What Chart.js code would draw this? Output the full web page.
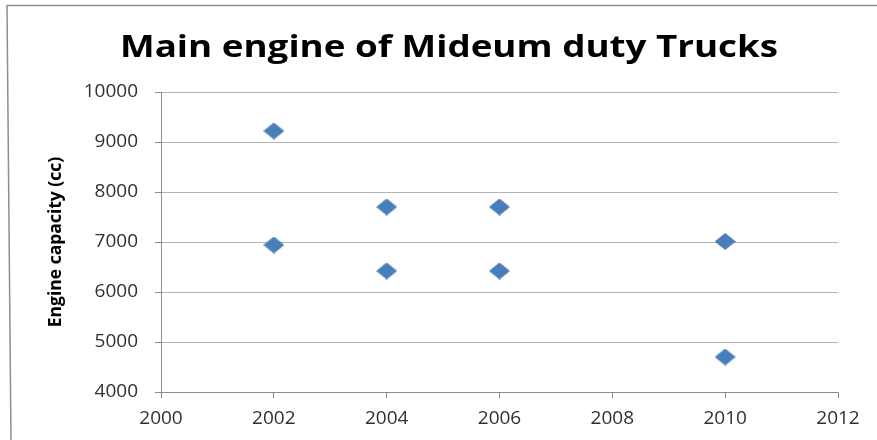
<!DOCTYPE html>
<html>
<head>
<meta charset="utf-8">
<title>Main engine of Mideum duty Trucks</title>
<script src="https://cdn.jsdelivr.net/npm/chart.js@4/dist/chart.umd.min.js"></script>
<style>
    html, body { margin: 0; padding: 0; background: #fff; }
    #truck-chart { display: block; }
</style>
</head>
<body>
<canvas id="truck-chart" width="877" height="440"></canvas>
<script>
// ---- Data ----
const chartTitle = 'Main engine of Mideum duty Trucks';
const yAxisTitle = 'Engine capacity (cc)';
const modelYears = [2002, 2002, 2004, 2004, 2006, 2006, 2010, 2010];
const engineCapacityCc = [9220, 6940, 7700, 6420, 7700, 6420, 7010, 4700];
const yearTicks = [2000, 2002, 2004, 2006, 2008, 2010, 2012];
const capacityTicks = [4000, 5000, 6000, 7000, 8000, 9000, 10000];

const MARKER_BLUE = '#4a7ebb';
const AXIS_GREY = '#8c8c8c';
const GRID_GREY = '#b4b4b4';
const LABEL_FONT = "'Open Sans', 'DejaVu Sans', sans-serif";

// Excel-style diamond marker, a little wider than tall
function diamondMarker(w, h, color) {
    const c = document.createElement('canvas');
    c.width = w;
    c.height = h;
    const g = c.getContext('2d');
    g.fillStyle = color;
    g.beginPath();
    g.moveTo(w / 2, 0);
    g.lineTo(w, h / 2);
    g.lineTo(w / 2, h);
    g.lineTo(0, h / 2);
    g.closePath();
    g.fill();
    return c;
}

// Chart frame and heading, drawn on the canvas behind the plot
const frameAndTitle = {
    id: 'frameAndTitle',
    beforeDraw(chart) {
        const ctx = chart.ctx;
        ctx.save();
        ctx.fillStyle = '#fff';
        ctx.fillRect(0, 0, chart.width, chart.height);
        ctx.strokeStyle = '#8e8e8e';
        ctx.lineWidth = 1.5;
        ctx.beginPath();
        ctx.moveTo(11, chart.height + 2);
        ctx.lineTo(7, 5.5);
        ctx.lineTo(chart.width + 2, 5.5);
        ctx.stroke();

        // heading is set in a wide bold face, stretched sideways to 658px
        ctx.fillStyle = '#000';
        ctx.font = "bold 31px 'Open Sans', sans-serif";
        ctx.textAlign = 'center';
        ctx.textBaseline = 'alphabetic';
        const stretch = 658 / ctx.measureText(chartTitle).width;
        ctx.translate(449, 57);
        ctx.scale(stretch, 1);
        ctx.fillText(chartTitle, 0, 0);
        ctx.restore();
    }
};

const points = modelYears.map((year, i) => ({ x: year, y: engineCapacityCc[i] }));

new Chart(document.getElementById('truck-chart'), {
    type: 'scatter',
    data: {
        datasets: [{
            label: 'Engine capacity',
            data: points,
            pointStyle: diamondMarker(21, 17, MARKER_BLUE),
            backgroundColor: MARKER_BLUE,
            borderColor: MARKER_BLUE
        }]
    },
    options: {
        responsive: false,
        animation: false,
        events: [],
        layout: {
            padding: { top: 92, left: 0, right: 39, bottom: 0 }
        },
        plugins: {
            legend: { display: false },
            title: { display: false },
            tooltip: { enabled: false }
        },
        scales: {
            x: {
                type: 'linear',
                min: yearTicks[0],
                max: yearTicks[yearTicks.length - 1],
                afterBuildTicks: scale => {
                    scale.ticks = yearTicks.map(v => ({ value: v }));
                },
                afterFit: scale => { scale.height = 48; },
                grid: {
                    drawOnChartArea: false,
                    drawTicks: true,
                    tickLength: 6,
                    tickColor: AXIS_GREY
                },
                border: { display: true, color: AXIS_GREY, width: 1 },
                ticks: {
                    padding: 9,
                    color: '#303030',
                    font: { family: LABEL_FONT, size: 19 },
                    callback: v => String(v)
                }
            },
            y: {
                type: 'linear',
                min: capacityTicks[0],
                max: capacityTicks[capacityTicks.length - 1],
                afterBuildTicks: scale => {
                    scale.ticks = capacityTicks.map(v => ({ value: v }));
                },
                afterFit: scale => { scale.width = 161; },
                grid: {
                    color: GRID_GREY,
                    lineWidth: 1,
                    drawTicks: true,
                    tickLength: 6,
                    tickColor: AXIS_GREY
                },
                border: { display: true, color: AXIS_GREY, width: 1 },
                ticks: {
                    padding: 17,
                    color: '#303030',
                    font: { family: LABEL_FONT, size: 19 },
                    callback: v => String(v)
                },
                title: {
                    display: true,
                    text: yAxisTitle,
                    color: '#000',
                    font: { family: LABEL_FONT, size: 17.5, weight: 'bold' },
                    padding: { top: 46, bottom: 0 }
                }
            }
        }
    },
    plugins: [frameAndTitle]
});
</script>
</body>
</html>
